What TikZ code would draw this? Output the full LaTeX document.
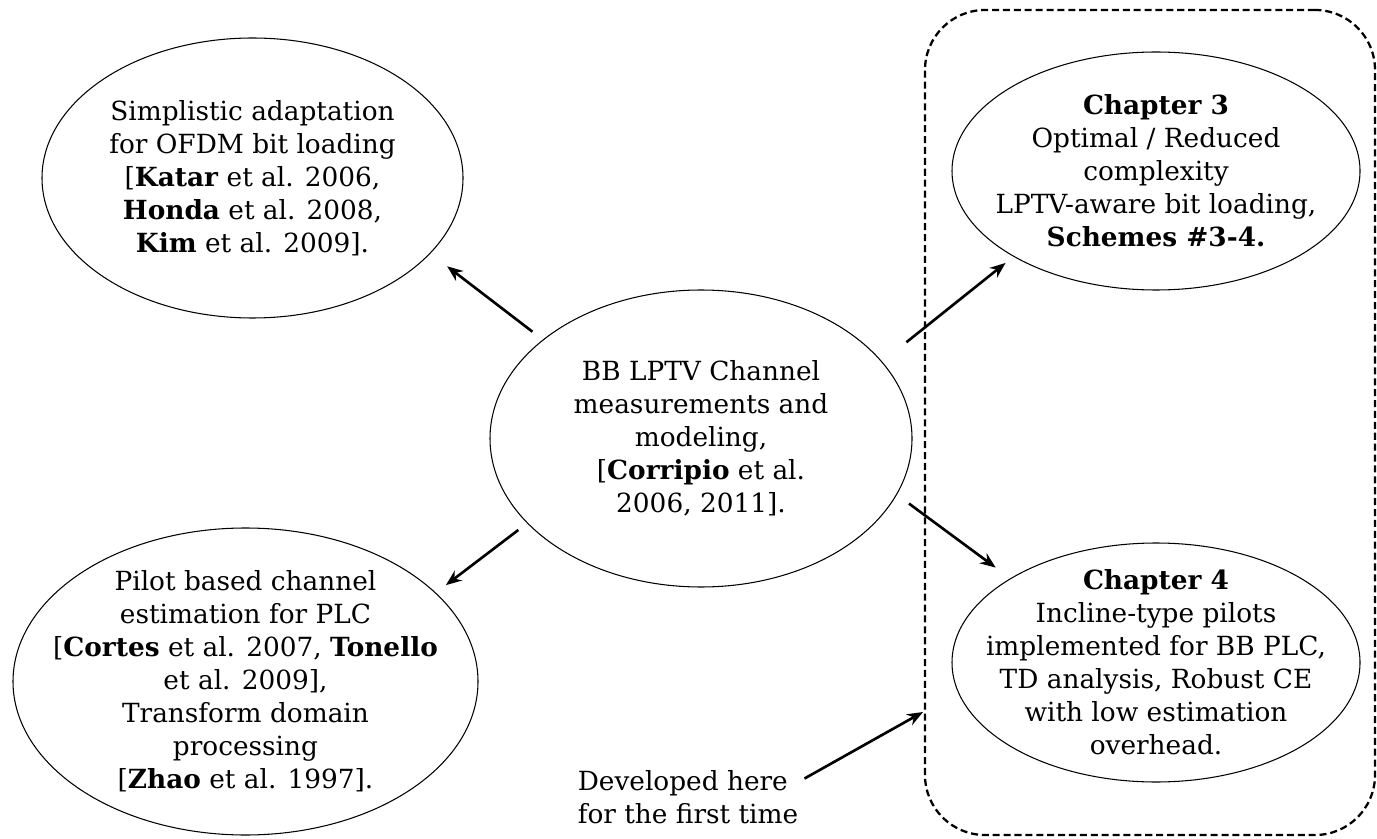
\documentclass[tikz,border=0pt]{standalone}
\usepackage{fontspec}
\setmainfont{DejaVu Serif}
\usetikzlibrary{arrows.meta,positioning,shapes.geometric}

\begin{document}
\begin{tikzpicture}[
    bubble/.style={ellipse,draw,line width=0.6pt,inner xsep=-1.5cm,inner ysep=-1cm,
      align=center,font=\fontsize{15}{18.8}\selectfont},
    arr/.style={-{Stealth[length=9pt,width=7pt]},line width=1.5pt},
    zone/.style={draw,line width=1.3pt,dash pattern=on 4pt off 2.2pt,rounded corners=1.2cm}
  ]
  \useasboundingbox (0,0) rectangle (27.54,-16.78);

  % the box round the new work
  \node[zone,minimum width=9cm,minimum height=16.5cm] (zone) at (23.0,-8.45) {};

  \node[bubble,minimum width=8.44cm,minimum height=5.94cm] (ctr) at (14.02,-8.77)
    {BB LPTV Channel\\measurements and\\modeling,\\{[}\textbf{Corripio} et al.\\2006, 2011].};
  \node[bubble,minimum width=8.42cm,minimum height=5.6cm] (tl) at (5.05,-3.56)
    {Simplistic adaptation\\for OFDM bit loading\\{[}\textbf{Katar} et al. 2006,\\\textbf{Honda} et al. 2008,\\\textbf{Kim} et al. 2009].};
  \node[bubble,minimum width=9.3cm,minimum height=6.14cm] (bl) at (4.91,-13.63)
    {Pilot based channel\\estimation for PLC\\{[}\textbf{Cortes} et al. 2007, \textbf{Tonello}\\et al. 2009],\\Transform domain\\processing\\{[}\textbf{Zhao} et al. 1997].};
  \node[bubble,minimum width=8.16cm,minimum height=4.76cm] (tr) at (23.12,-3.42)
    {\textbf{Chapter 3}\\Optimal / Reduced\\complexity\\LPTV-aware bit loading,\\\textbf{Schemes \#3-4.}};
  \node[bubble,minimum width=8.16cm,minimum height=4.78cm] (br) at (23.12,-13.25)
    {\textbf{Chapter 4}\\Incline-type pilots\\implemented for BB PLC,\\TD analysis, Robust CE\\with low estimation\\overhead.};

  \node[align=left,font=\fontsize{15}{18.8}\selectfont] (dev) at (13.76,-15.94)
    {Developed here\\for the first time};
  \coordinate (devtip) at (18.46,-14.24);

  \draw[arr,shorten <=0.26cm,shorten >=0.42cm] (ctr.148) -- (tl.-23.5);
  \draw[arr,shorten <=0.22cm,shorten >=0.25cm] (ctr.206) -- (bl.25.6);
  \draw[arr,shorten <=0.62cm,shorten >=0.2cm] (ctr.23.8) -- (tr.211.9);
  \draw[arr,shorten <=0.3cm,shorten >=0.36cm] (ctr.-16.4) -- (br.150.1);
  \draw[arr] (dev.9) -- (devtip);
\end{tikzpicture}
\end{document}
